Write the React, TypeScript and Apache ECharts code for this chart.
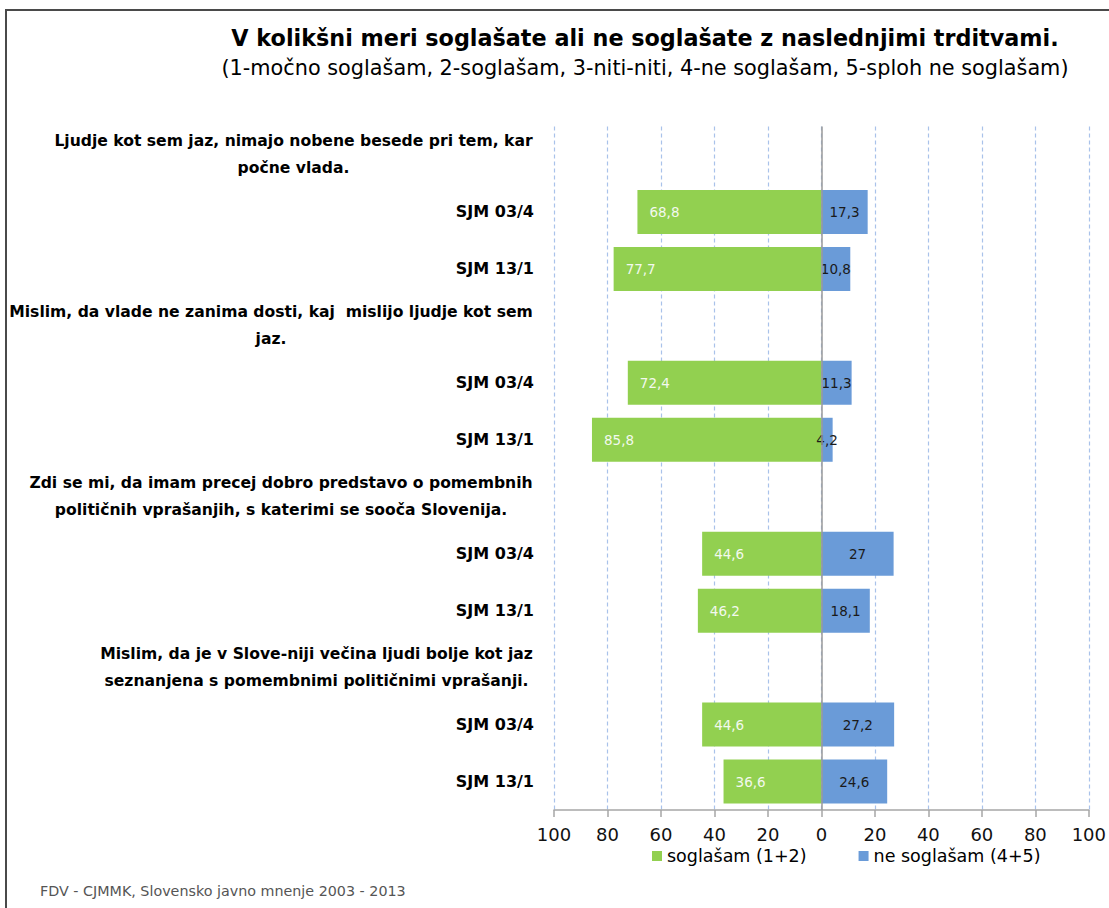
import React, { useEffect, useRef } from "react";
import * as echarts from "echarts";

const categories: string[] = [
  "Ljudje kot sem jaz, nimajo nobene besede pri tem, kar\npočne vlada.",
  "SJM 03/4",
  "SJM 13/1",
  "Mislim, da vlade ne zanima dosti, kaj  mislijo ljudje kot sem\njaz.",
  "SJM 03/4",
  "SJM 13/1",
  "Zdi se mi, da imam precej dobro predstavo o pomembnih\npolitičnih vprašanjih, s katerimi se sooča Slovenija.",
  "SJM 03/4",
  "SJM 13/1",
  "Mislim, da je v Slove-niji večina ljudi bolje kot jaz\nseznanjena s pomembnimi političnimi vprašanji.",
  "SJM 03/4",
  "SJM 13/1",
];

const agree: (number | null)[] = [null, 68.8, 77.7, null, 72.4, 85.8, null, 44.6, 46.2, null, 44.6, 36.6];
const disagree: (number | null)[] = [null, 17.3, 10.8, null, 11.3, 4.2, null, 27, 18.1, null, 27.2, 24.6];

const seriesNames = ["soglašam (1+2)", "ne soglašam (4+5)"];
const xTicks = { min: -100, max: 100, interval: 20 };

const titleText = "V kolikšni meri soglašate ali ne soglašate z naslednjimi trditvami.";
const subtitleText = "(1-močno soglašam, 2-soglašam, 3-niti-niti, 4-ne soglašam, 5-sploh ne soglašam)";
const footerText = "FDV - CJMMK, Slovensko javno mnenje 2003 - 2013";

const FONT = '"DejaVu Sans", sans-serif';
const HEAD_SIZE = 15.6;
const SJM_SIZE = 16;

function fmt(v: number): string {
  return String(Math.abs(v)).replace(".", ",");
}

export default function App() {
  const ref = useRef<HTMLDivElement>(null);

  useEffect(() => {
    document.body.style.margin = "0";
    if (!ref.current) return;
    const chart = echarts.init(ref.current, undefined, { renderer: "svg" });

    // measure header widths to centre their lines inside a right-aligned block
    const canvas = document.createElement("canvas");
    const ctx = canvas.getContext("2d")!;
    ctx.font = `bold ${HEAD_SIZE}px "DejaVu Sans"`;
    const rich: Record<string, any> = {};
    categories.forEach((c, i) => {
      if (c.includes("\n")) {
        const w = Math.max(...c.split("\n").map((l) => ctx.measureText(l).width));
        rich["h" + i] = {
          width: Math.ceil(w) + 2,
          align: "center",
          fontFamily: FONT,
          fontSize: HEAD_SIZE,
          fontWeight: "bold",
          color: "#000",
          lineHeight: 27,
        };
      }
    });

    chart.setOption({
      animation: false,
      backgroundColor: "#fff",
      title: {
        text: titleText,
        subtext: subtitleText,
        left: 645,
        top: 26,
        textAlign: "center",
        padding: 0,
        itemGap: 7,
        textStyle: { fontFamily: FONT, fontSize: 22.3, fontWeight: "bold", color: "#000", lineHeight: 24 },
        subtextStyle: { fontFamily: FONT, fontSize: 20.8, color: "#000", lineHeight: 22 },
      },
      graphic: [
        {
          type: "rect",
          shape: { x: 6, y: 10, width: 1200, height: 1000 },
          style: { fill: "none", stroke: "#4a4a4a", lineWidth: 2 },
          silent: true,
        },
        {
          type: "text",
          left: 40,
          top: 884,
          style: { text: footerText, fontFamily: FONT, fontSize: 14.3, fill: "#555" },
          silent: true,
        },
      ],
      legend: {
        data: seriesNames,
        left: 652,
        top: 847,
        padding: 0,
        icon: "rect",
        itemWidth: 10,
        itemHeight: 10,
        itemGap: 52,
        textStyle: { fontFamily: FONT, fontSize: 17.5, color: "#000" },
      },
      grid: { left: 554, right: 18.5, top: 126.5, bottom: 98 },
      xAxis: {
        type: "value",
        min: xTicks.min,
        max: xTicks.max,
        interval: xTicks.interval,
        axisLine: { show: true, lineStyle: { color: "#a6a6a6", width: 1.5 } },
        axisTick: { show: true, length: 7, lineStyle: { color: "#a6a6a6", width: 1.5 } },
        splitLine: { show: true, lineStyle: { color: "#a9c2ea", type: [4, 3], width: 1.2 } },
        axisLabel: {
          formatter: (v: number) => String(Math.abs(v)),
          fontFamily: FONT,
          fontSize: 18,
          color: "#111",
          margin: 15,
        },
      },
      yAxis: {
        type: "category",
        data: categories,
        inverse: true,
        axisLine: { show: false },
        axisTick: { show: false },
        splitLine: { show: false },
        axisLabel: {
          margin: 20,
          interval: 0,
          fontFamily: FONT,
          fontSize: SJM_SIZE,
          fontWeight: "bold",
          color: "#000",
          lineHeight: 27,
          formatter: (val: string, idx: number) => {
            if (val.includes("\n")) {
              return val
                .split("\n")
                .map((l) => `{h${idx}|${l}}`)
                .join("\n");
            }
            return val;
          },
          rich,
        },
      },
      series: [
        {
          name: seriesNames[0],
          type: "bar",
          stack: "total",
          barWidth: 44,
          itemStyle: { color: "#92d050" },
          data: agree.map((v) => (v == null ? null : -v)),
          label: {
            show: true,
            position: "insideLeft",
            distance: 12,
            fontFamily: FONT,
            fontSize: 13.5,
            color: "#f3f9ee",
            formatter: (p: any) => fmt(p.value),
          },
          markLine: {
            silent: true,
            symbol: ["none", "none"],
            label: { show: false },
            lineStyle: { color: "#9a9a9a", type: "solid", width: 1.5 },
            data: [{ xAxis: 0 }],
          },
        },
        {
          name: seriesNames[1],
          type: "bar",
          stack: "total",
          barWidth: 44,
          itemStyle: { color: "#6a9bd8" },
          data: disagree,
          label: {
            show: true,
            position: "inside",
            fontFamily: FONT,
            fontSize: 13.5,
            color: "#1a1a1a",
            formatter: (p: any) => fmt(p.value),
          },
        },
      ],
    });

    return () => chart.dispose();
  }, []);

  return <div ref={ref} style={{ width: 1109, height: 908 }} />;
}
